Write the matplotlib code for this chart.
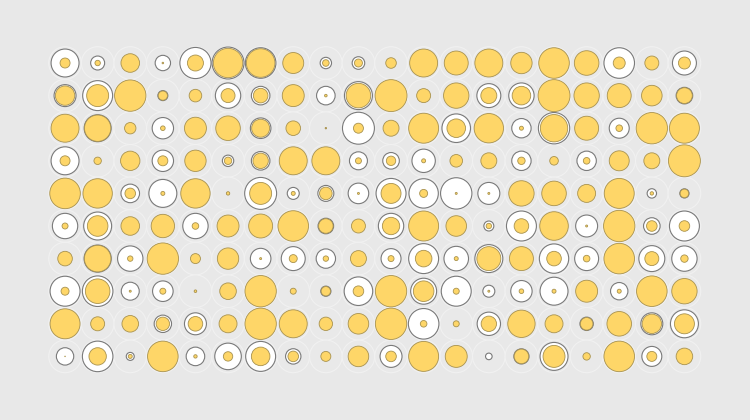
"""
Grid of nested circles: a white ring size and a yellow disc size per cell.
"""

import numpy as np
import matplotlib.pyplot as plt
from matplotlib.patches import Circle

# outer (white) and inner (yellow) sizes, 0-16 scale, one list per row
outer = [
    [14, 7, 5, 7.7, 15.6, 16, 15.3, 6, 5.7, 6.3, 3, 9, 8, 10, 4, 12, 7, 15.3, 2, 12],
    [11, 15, 9, 5, 3, 12.7, 9.3, 7, 9.3, 14, 11, 4, 8, 12, 12.7, 10, 6, 9, 5, 8.3],
    [10, 13.5, 3, 10.7, 6, 8, 10.3, 5, 0.3, 16, 4, 11, 14.3, 9, 9.7, 15.7, 7, 10, 12, 13],
    [14, 2, 6, 10.7, 7, 5.7, 9.3, 9, 11, 9, 8.3, 11.7, 3, 5, 9.7, 2, 9.7, 6, 4, 12],
    [10, 8, 9.3, 14, 7, 1, 16, 6, 8, 10.3, 15, 14.7, 15.7, 11, 8, 6, 5, 11, 4.7, 4.6],
    [12.7, 14, 5, 8, 12.7, 6, 9, 10, 7.8, 4, 12.7, 12, 7, 5, 15, 9, 11, 12, 8.3, 15],
    [4, 13.6, 12.7, 11, 3, 7, 10.3, 12, 9.7, 5, 10, 15, 12.3, 14, 8, 14.7, 12, 10, 13, 12.7],
    [15, 15.3, 9, 10.3, 0.5, 5, 12, 2, 5.1, 14.3, 11, 13, 15, 6, 10.7, 14, 7, 8.7, 10, 9],
    [9, 4, 6, 8.7, 11, 5, 12, 10, 3, 7, 12, 15.3, 2, 11.7, 8, 5, 6.7, 9, 11, 14],
    [8.7, 15.3, 4, 11, 9.3, 13.3, 15, 7.7, 3, 6, 11, 10, 7, 3.3, 7.6, 14, 2, 12, 10, 5],
]
inner = [
    [5, 2.7, 9.3, 0.8, 8, 14.7, 14.3, 10.5, 3.3, 4, 5.3, 14, 12, 14, 10.7, 15.3, 12.3, 6, 7, 6],
    [9.7, 11, 15.7, 4.6, 6.3, 7, 7.3, 11, 1.3, 12.3, 16, 7, 12.7, 8, 9.3, 16, 12.7, 12, 10.3, 7.9],
    [14, 13.2, 5.7, 2.3, 11, 12.3, 9, 7.3, 0.7, 5, 8, 15, 9.3, 14.7, 2, 13.7, 12, 3.3, 15.7, 15],
    [5, 3.7, 9.7, 5, 10.7, 3.7, 7.7, 14, 14, 3, 4.7, 2, 6.3, 8, 3.7, 4.3, 3.3, 10, 8, 16],
    [15.3, 14.7, 5.3, 2, 14.7, 1.7, 11, 2, 6.3, 1, 10, 4, 1, 1, 12.7, 12.3, 9, 15, 1.7, 4.3],
    [3, 10.3, 9.3, 11.7, 3.3, 11, 12, 15.3, 7.3, 7, 8.7, 15, 10.3, 2.7, 7.3, 14.3, 1, 15.7, 5.3, 5.3],
    [7.3, 13.3, 2.7, 15.7, 5, 10.7, 1, 4, 2.7, 8, 3, 8.3, 2, 12, 12, 7.3, 3.3, 15.3, 7, 3.7],
    [4, 12.3, 1, 3, 1.3, 8.3, 15.7, 3, 4.7, 5.3, 15.7, 10.3, 3, 1, 2.3, 2, 11, 2, 15.3, 12.7],
    [15, 7, 8.3, 6.7, 7.3, 9, 15.7, 14, 6.7, 10.3, 15.7, 3.3, 3, 7.7, 13.7, 9, 6.3, 12.3, 9.7, 10],
    [0.3, 8.7, 2, 15.3, 1.7, 4.7, 9.3, 5.3, 5, 10.3, 5.3, 15, 11, 0, 7.3, 11, 3.7, 15.3, 5, 8.3],
]
max_value = 16

BG = "#e8e8e8"
R_MAX = 0.49

fig = plt.figure(figsize=(7.5, 4.2), dpi=100)
fig.patch.set_facecolor(BG)
ax = fig.add_axes([0, 0, 1, 1])
ax.set_facecolor(BG)

for j, (orow, irow) in enumerate(zip(outer, inner)):
    for i, (o, v) in enumerate(zip(orow, irow)):
        # faint cell backdrop
        ax.add_patch(Circle((i, j), 0.5, facecolor="#e9e9e9",
                            edgecolor="#f1f1f1", lw=0.8, zorder=1))
        ax.add_patch(Circle((i, j), o / max_value * R_MAX, facecolor="white",
                            edgecolor="#7a7a7a", lw=0.8, zorder=2))
        if v > 0:
            ax.add_patch(Circle((i, j), v / max_value * R_MAX, facecolor="#fed668",
                                edgecolor="#a8924f", lw=0.6, zorder=3))

ax.set_xlim(-1.994, 21.01)
ax.set_ylim(10.951, -1.933)
ax.set_aspect("equal")
ax.axis("off")

fig.savefig("out.png", dpi=100, facecolor=BG)
